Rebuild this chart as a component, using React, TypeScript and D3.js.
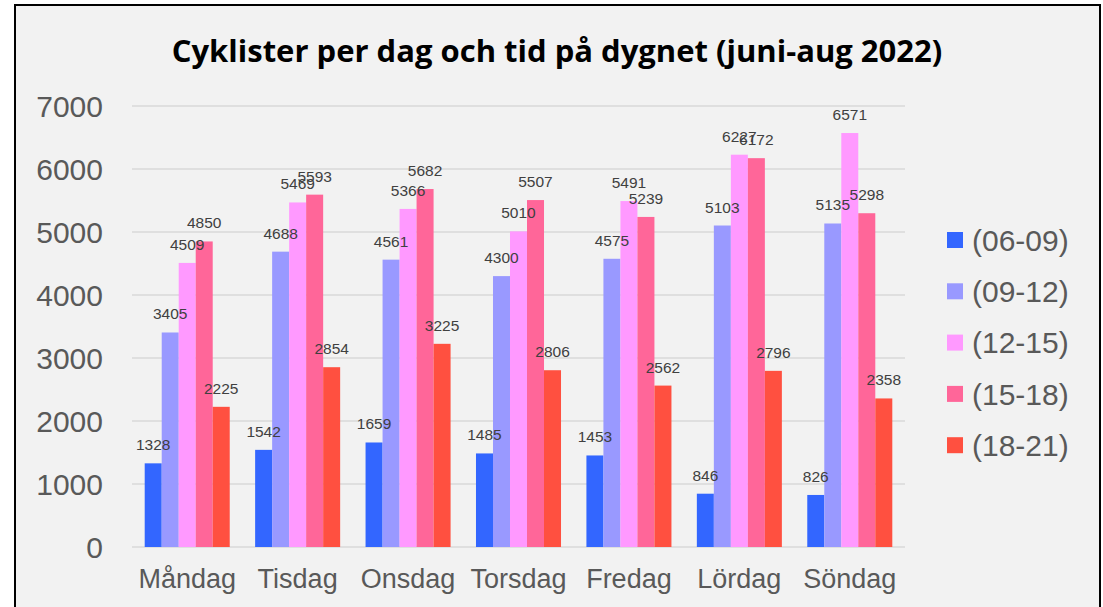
import React, { useEffect, useRef } from 'react';
import * as d3 from 'd3';

const days = ['Måndag', 'Tisdag', 'Onsdag', 'Torsdag', 'Fredag', 'Lördag', 'Söndag'];
const periods = ['(06-09)', '(09-12)', '(12-15)', '(15-18)', '(18-21)'];
const colors = ['#3366ff', '#9999ff', '#ff99ff', '#ff6699', '#ff5040'];

// values per period, one number per day
const v0609 = [1328, 1542, 1659, 1485, 1453, 846, 826];
const v0912 = [3405, 4688, 4561, 4300, 4575, 5103, 5135];
const v1215 = [4509, 5469, 5366, 5010, 5491, 6227, 6571];
const v1518 = [4850, 5593, 5682, 5507, 5239, 6172, 5298];
const v1821 = [2225, 2854, 3225, 2806, 2562, 2796, 2358];
const yTicks = [0, 1000, 2000, 3000, 4000, 5000, 6000, 7000];

const App = () => {
  const svgRef = useRef<SVGSVGElement>(null);
  const width = 1103;
  const height = 607;

  useEffect(() => {
    if (!svgRef.current) return;
    const svg = d3.select(svgRef.current);
    svg.selectAll('*').remove();

    const series = [v0609, v0912, v1215, v1518, v1821];
    const left = 132, right = 905, top = 106, bottom = 547;

    // frame
    svg.append('rect').attr('x', 0).attr('y', 0).attr('width', width).attr('height', height).attr('fill', '#ffffff');
    svg.append('rect')
      .attr('x', 15).attr('y', 5).attr('width', 1085).attr('height', 640)
      .attr('fill', '#f2f2f2').attr('stroke', '#000').attr('stroke-width', 2);

    // title
    svg.append('text')
      .attr('x', 557).attr('y', 62)
      .attr('text-anchor', 'middle')
      .style('font-family', '"Open Sans", sans-serif')
      .style('font-weight', 700)
      .style('font-size', '31px')
      .attr('fill', '#000')
      .text('Cyklister per dag och tid på dygnet (juni-aug 2022)');

    const y = d3.scaleLinear().domain([0, 7000]).range([bottom, top]);
    const x0 = d3.scaleBand().domain(days).range([left, right]).paddingInner(0.23).paddingOuter(0.115);
    const x1 = d3.scaleBand().domain(periods).range([0, x0.bandwidth()]);

    // grid
    svg.append('g').selectAll('line').data(yTicks).join('line')
      .attr('x1', left).attr('x2', right)
      .attr('y1', d => y(d)).attr('y2', d => y(d))
      .attr('stroke', '#d9d9d9').attr('stroke-width', 1.5);

    // y labels
    svg.append('g').selectAll('text').data(yTicks).join('text')
      .attr('x', 103).attr('y', d => y(d))
      .attr('dy', '0.36em')
      .attr('text-anchor', 'end')
      .style('font-family', 'Arial, "Liberation Sans", sans-serif')
      .style('font-size', '30px')
      .attr('fill', '#595959')
      .text(d => d);

    // x labels
    svg.append('g').selectAll('text').data(days).join('text')
      .attr('x', d => (x0(d) as number) + x0.bandwidth() / 2).attr('y', 588)
      .attr('text-anchor', 'middle')
      .style('font-family', 'Arial, "Liberation Sans", sans-serif')
      .style('font-size', '27px')
      .attr('fill', '#595959')
      .text(d => d);

    const cellData = days.flatMap((day, i) =>
      periods.map((p, k) => ({ day, p, k, value: series[k][i] }))
    );
    const cx = (d: { day: string; p: string }) => (x0(d.day) as number) + (x1(d.p) as number);

    // bars
    svg.append('g').selectAll('rect').data(cellData).join('rect')
      .attr('x', d => cx(d))
      .attr('y', d => y(d.value))
      .attr('width', x1.bandwidth())
      .attr('height', d => bottom - y(d.value))
      .attr('fill', d => colors[d.k]);

    // value labels, drawn on top of all bars
    svg.append('g').selectAll('text').data(cellData).join('text')
      .attr('x', d => cx(d) + x1.bandwidth() / 2)
      .attr('y', d => y(d.value) - 13)
      .attr('text-anchor', 'middle')
      .style('font-family', 'Arial, "Liberation Sans", sans-serif')
      .style('font-size', '15.5px')
      .attr('fill', '#404040')
      .text(d => d.value);

    // legend
    const legend = svg.append('g').selectAll('g').data(periods).join('g')
      .attr('transform', (d, i) => `translate(947, ${240 + i * 51.3})`);
    legend.append('rect')
      .attr('x', 0).attr('y', -8).attr('width', 16).attr('height', 16)
      .attr('fill', (d, i) => colors[i]);
    legend.append('text')
      .attr('x', 25).attr('y', 0).attr('dy', '0.36em')
      .style('font-family', 'Arial, "Liberation Sans", sans-serif')
      .style('font-size', '30px')
      .attr('fill', '#595959')
      .text(d => d);
  }, []);

  return (
    <div style={{ position: 'absolute', left: 0, top: 0 }}>
      <svg ref={svgRef} width={width} height={height} style={{ display: 'block' }}></svg>
    </div>
  );
};

export default App;
